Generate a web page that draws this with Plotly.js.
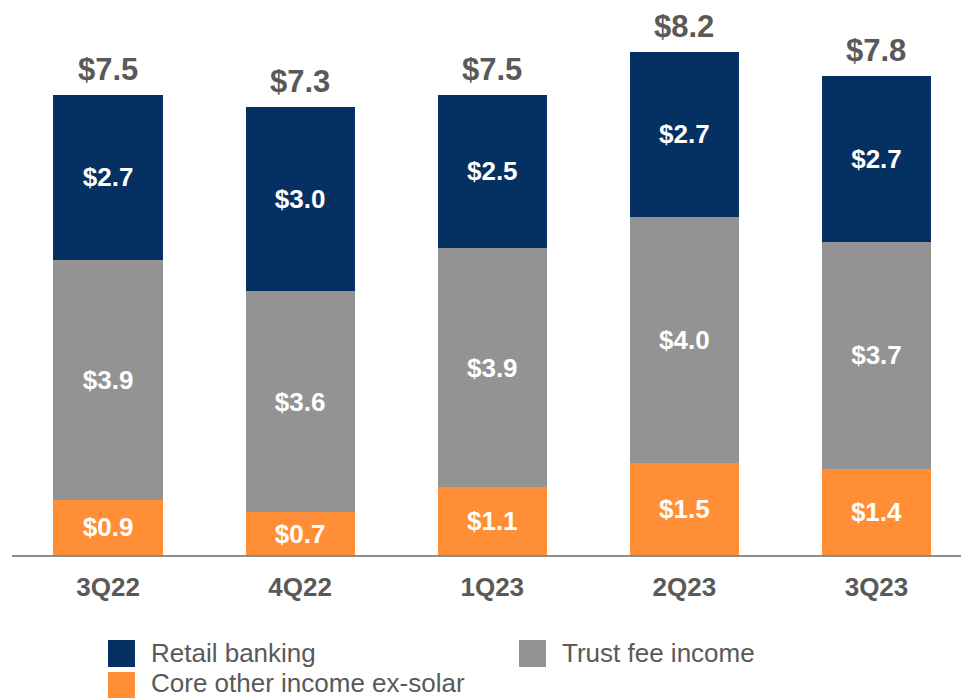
<!DOCTYPE html>
<html>
<head>
<meta charset="utf-8">
<script src="https://cdn.plot.ly/plotly-3.0.1.min.js"></script>
<style>html,body{margin:0;padding:0;background:#fff;}#chart{width:961px;height:698px;}</style>
</head>
<body>
<div id="chart"></div>
<script>
var categories = ["3Q22", "4Q22", "1Q23", "2Q23", "3Q23"];
var coreOther = [0.9, 0.7, 1.1, 1.5, 1.4];
var trustFee = [3.9, 3.6, 3.9, 4.0, 3.7];
var retail = [2.7, 3.0, 2.5, 2.7, 2.7];
var totals = [7.5, 7.3, 7.5, 8.2, 7.8];
var seriesNames = ["Retail banking", "Trust fee income", "Core other income ex-solar"];

var W = 961, H = 698;
var mL = 12, mR = 0, mT = 0, mB = 143;
var plotW = W - mL - mR, plotH = H - mT - mB;
function px(x) { return (x - mL) / plotW; }
function py(y) { return (H - mB - y) / plotH; }

var NAVY = "#053162", GRAY = "#939393", ORANGE = "#FF8E36", TXT = "#595959";
var FONT = "Liberation Sans, Arial, sans-serif";

function barTrace(name, vals, color) {
  return {
    type: "bar", name: name, x: categories, y: vals,
    marker: { color: color, line: { width: 0 } },
    text: vals.map(function (v) { return "$" + v.toFixed(1); }),
    textposition: "inside", insidetextanchor: "middle", textangle: 0,
    constraintext: "none",
    textfont: { family: FONT, size: 26, color: "#ffffff", weight: "bold" },
    hoverinfo: "x+y+name"
  };
}

var data = [
  barTrace(seriesNames[2], coreOther, ORANGE),
  barTrace(seriesNames[1], trustFee, GRAY),
  barTrace(seriesNames[0], retail, NAVY)
];

var annotations = categories.map(function (c, i) {
  return {
    x: c, y: totals[i], xref: "x", yref: "y",
    text: "$" + totals[i].toFixed(1), showarrow: false,
    xanchor: "center", yanchor: "bottom", yshift: 6,
    font: { family: FONT, size: 31, color: TXT, weight: "bold" }
  };
});

// legend (drawn manually for large square swatches)
var legendItems = [
  { name: seriesNames[0], color: NAVY, sx: 108, tx: 149, sy: 640, ty: 653 },
  { name: seriesNames[1], color: GRAY, sx: 519, tx: 560, sy: 640, ty: 653 },
  { name: seriesNames[2], color: ORANGE, sx: 108, tx: 149, sy: 672, ty: 683 }
];
var shapes = [];
legendItems.forEach(function (it) {
  shapes.push({
    type: "rect", xref: "paper", yref: "paper",
    x0: px(it.sx), x1: px(it.sx + 27), y0: py(it.sy), y1: py(it.sy + 27),
    fillcolor: it.color, line: { width: 0 }
  });
  annotations.push({
    xref: "paper", yref: "paper", x: px(it.tx), y: py(it.ty),
    xanchor: "left", yanchor: "middle", showarrow: false, text: it.name,
    font: { family: FONT, size: 26, color: TXT }
  });
});

var layout = {
  width: W, height: H,
  margin: { l: mL, r: mR, t: mT, b: mB, pad: 0 },
  paper_bgcolor: "#ffffff", plot_bgcolor: "#ffffff",
  barmode: "stack", bargap: 0.432,
  showlegend: false,
  xaxis: {
    type: "category", range: [-0.5, 4.44],
    showline: true, linecolor: "#8c8c8c", linewidth: 2,
    showgrid: false, zeroline: false, ticks: "", ticklabelstandoff: 8,
    tickfont: { family: FONT, size: 26, color: TXT, weight: "bold" },
    fixedrange: true
  },
  yaxis: {
    range: [0, 9.04], visible: false, showgrid: false, zeroline: false, fixedrange: true
  },
  annotations: annotations,
  shapes: shapes
};

Plotly.newPlot("chart", data, layout, { displayModeBar: false, staticPlot: true });
</script>
</body>
</html>
